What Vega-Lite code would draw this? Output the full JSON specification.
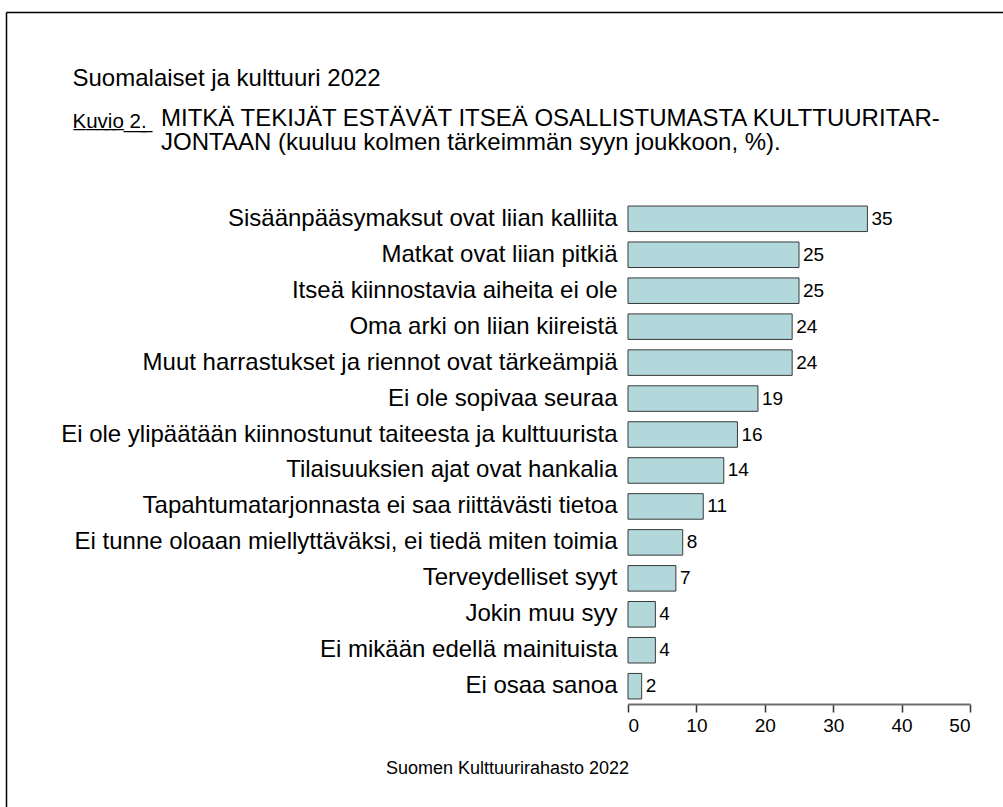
{
  "$schema": "https://vega.github.io/schema/vega-lite/v6.json",
  "width": 342,
  "height": 503,
  "autosize": "none",
  "padding": {"left": 628, "top": 201, "right": 33, "bottom": 103},
  "background": "white",
  "config": {
    "view": {"stroke": null},
    "font": "Liberation Sans"
  },
  "title": {
    "text": ["MITKÄ TEKIJÄT ESTÄVÄT ITSEÄ OSALLISTUMASTA KULTTUURITAR-", "JONTAAN (kuuluu kolmen tärkeimmän syyn joukkoon, %)."],
    "anchor": "start",
    "frame": "group",
    "dx": -467,
    "offset": -143,
    "font": "Liberation Sans",
    "fontSize": 24,
    "fontWeight": "normal",
    "color": "black",
    "lineHeight": 24.5
  },
  "data": {
    "values": [
      {"syy": "Sisäänpääsymaksut ovat liian kalliita", "osuus": 35},
      {"syy": "Matkat ovat liian pitkiä", "osuus": 25},
      {"syy": "Itseä kiinnostavia aiheita ei ole", "osuus": 25},
      {"syy": "Oma arki on liian kiireistä", "osuus": 24},
      {"syy": "Muut harrastukset ja riennot ovat tärkeämpiä", "osuus": 24},
      {"syy": "Ei ole sopivaa seuraa", "osuus": 19},
      {"syy": "Ei ole ylipäätään kiinnostunut taiteesta ja kulttuurista", "osuus": 16},
      {"syy": "Tilaisuuksien ajat ovat hankalia", "osuus": 14},
      {"syy": "Tapahtumatarjonnasta ei saa riittävästi tietoa", "osuus": 11},
      {"syy": "Ei tunne oloaan miellyttäväksi, ei tiedä miten toimia", "osuus": 8},
      {"syy": "Terveydelliset syyt", "osuus": 7},
      {"syy": "Jokin muu syy", "osuus": 4},
      {"syy": "Ei mikään edellä mainituista", "osuus": 4},
      {"syy": "Ei osaa sanoa", "osuus": 2}
    ]
  },
  "layer": [
    {
      "encoding": {
        "y": {
          "field": "syy",
          "type": "nominal",
          "sort": null,
          "scale": {"paddingInner": 0.29, "paddingOuter": 0.14},
          "axis": {
            "orient": "left",
            "title": null,
            "labelFont": "Liberation Sans",
            "labelFontSize": 24,
            "labelColor": "black",
            "labelPadding": 11,
            "labelLimit": 700,
            "ticks": false,
            "domain": false
          }
        },
        "x": {
          "field": "osuus",
          "type": "quantitative",
          "scale": {"domain": [0, 50], "nice": false},
          "axis": {
            "orient": "bottom",
            "values": [0, 10, 20, 30, 40, 50],
            "grid": false,
            "domainColor": "#6e6e6e",
            "domainWidth": 2,
            "tickColor": "#333333",
            "tickWidth": 1.5,
            "tickSize": 8,
            "labelFont": "Liberation Sans",
            "labelFontSize": 19,
            "labelColor": "black",
            "labelPadding": 4,
            "title": "Suomen Kulttuurirahasto 2022",
            "titleX": -121,
            "titleY": 69,
            "titleAlign": "center",
            "titleBaseline": "alphabetic",
            "titleFont": "Liberation Sans",
            "titleFontSize": 18,
            "titleFontWeight": "normal",
            "titleColor": "black"
          }
        }
      },
      "layer": [
        {
          "mark": {"type": "bar", "fill": "#b3d8dc", "stroke": "#3a3a3a", "strokeWidth": 1}
        },
        {
          "mark": {"type": "text", "align": "left", "baseline": "middle", "dx": 4, "fontSize": 19, "font": "Liberation Sans", "color": "black"},
          "encoding": {"text": {"field": "osuus", "type": "quantitative"}}
        }
      ]
    },
    {
      "mark": {"type": "point", "opacity": 0},
      "encoding": {
        "x": {
          "field": "osuus",
          "type": "quantitative",
          "scale": {"domain": [0, 50], "range": [-622, 400], "nice": false, "zero": false},
          "axis": {
            "orient": "top",
            "offset": 189,
            "labels": false,
            "ticks": false,
            "grid": false,
            "domainColor": "black",
            "domainWidth": 1.5,
            "title": "Suomalaiset ja kulttuuri 2022",
            "titleX": -556,
            "titleY": 73,
            "titleAlign": "left",
            "titleBaseline": "alphabetic",
            "titleAngle": 0,
            "titleFont": "Liberation Sans",
            "titleFontSize": 24,
            "titleFontWeight": "normal",
            "titleColor": "black"
          }
        },
        "y": {
          "field": "osuus",
          "type": "quantitative",
          "scale": {"domain": [0, 50], "range": [700, -189], "nice": false, "zero": false},
          "axis": {
            "orient": "left",
            "offset": 622,
            "labels": false,
            "ticks": false,
            "grid": false,
            "domainColor": "black",
            "domainWidth": 1.5,
            "title": "K\u0332u\u0332v\u0332i\u0332o\u0332 \u03322\u0332.\u0332",
            "titleX": 66,
            "titleY": -74,
            "titleAngle": 0,
            "titleAlign": "left",
            "titleBaseline": "alphabetic",
            "titleFont": "Liberation Sans",
            "titleFontSize": 20.5,
            "titleFontWeight": "normal",
            "titleColor": "black"
          }
        }
      }
    }
  ],
  "resolve": {
    "scale": {"x": "independent", "y": "independent"},
    "axis": {"x": "independent", "y": "independent"}
  }
}
